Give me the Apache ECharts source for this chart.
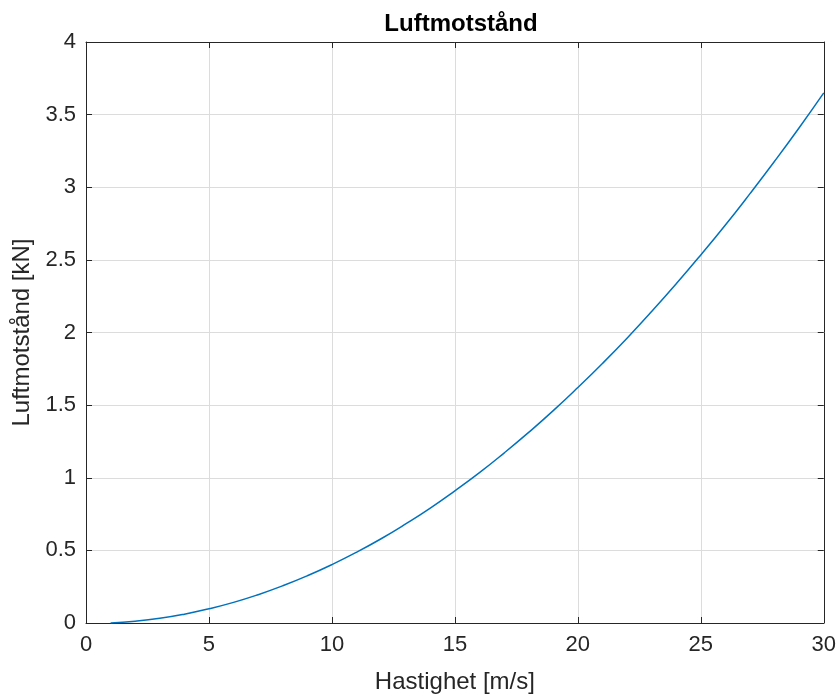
<!DOCTYPE html>
<html><head><meta charset="utf-8">
<script src="https://cdn.jsdelivr.net/npm/echarts@6/dist/echarts.min.js"></script>
<style>html,body{margin:0;padding:0;background:#fff}#c{width:839px;height:699px}</style>
</head><body><div id="c"></div>
<script>
const speeds = [1,2,3,4,5,6,7,8,9,10,11,12,13,14,15,16,17,18,19,20,21,22,23,24,25,26,27,28,29,30];
const drag = [0,0.012,0.032,0.061,0.098,0.142,0.195,0.256,0.325,0.402,0.487,0.58,0.682,0.791,0.91,1.035,1.17,1.312,1.462,1.621,1.787,1.961,2.144,2.335,2.534,2.74,2.956,3.179,3.41,3.65];
const titleText = 'Luftmotstånd';
const xName = 'Hastighet [m/s]';
const yName = 'Luftmotstånd [kN]';

const chart = echarts.init(document.getElementById('c'), null, {renderer:'canvas'});
const font = 'Liberation Sans, Arial, Helvetica, sans-serif';
const axisCol = '#262626';
const common = {
  axisLine:{show:true,onZero:false,lineStyle:{color:axisCol,width:1}},
  axisTick:{show:true,inside:true,length:6,lineStyle:{color:axisCol}},
};
chart.setOption({
  animation:false,
  backgroundColor:'#fff',
  title:{text:titleText,left:456,top:7,textAlign:'center',textStyle:{fontFamily:font,fontSize:24,fontWeight:'bold',color:'#000'}},
  grid:{left:86,right:13,top:42,bottom:73,containLabel:false},
  xAxis:[{
    type:'value',min:0,max:30,interval:5,position:'bottom',
    name:xName,nameLocation:'middle',nameGap:47,
    nameTextStyle:{fontFamily:font,fontSize:24,color:axisCol},
    axisLabel:{fontFamily:font,fontSize:22,color:axisCol,margin:11},
    splitLine:{show:true,lineStyle:{color:'#dcdcdc',width:1}},
    ...common
  },{
    type:'value',min:0,max:30,interval:5,position:'top',
    axisLabel:{show:false},splitLine:{show:false},...common
  }],
  yAxis:[{
    type:'value',min:0,max:4,interval:0.5,position:'left',
    name:yName,nameLocation:'middle',nameGap:49,
    nameTextStyle:{fontFamily:font,fontSize:24,color:axisCol},
    axisLabel:{fontFamily:font,fontSize:22,color:axisCol,margin:10},
    splitLine:{show:true,lineStyle:{color:'#dcdcdc',width:1}},
    ...common
  },{
    type:'value',min:0,max:4,interval:0.5,position:'right',
    axisLabel:{show:false},splitLine:{show:false},...common
  }],
  series:[{
    type:'line',data:speeds.map((v,i)=>[v,drag[i]]),
    showSymbol:false,smooth:true,
    lineStyle:{color:'#0072BD',width:1.5},
    clip:true
  }]
});
</script></body></html>
